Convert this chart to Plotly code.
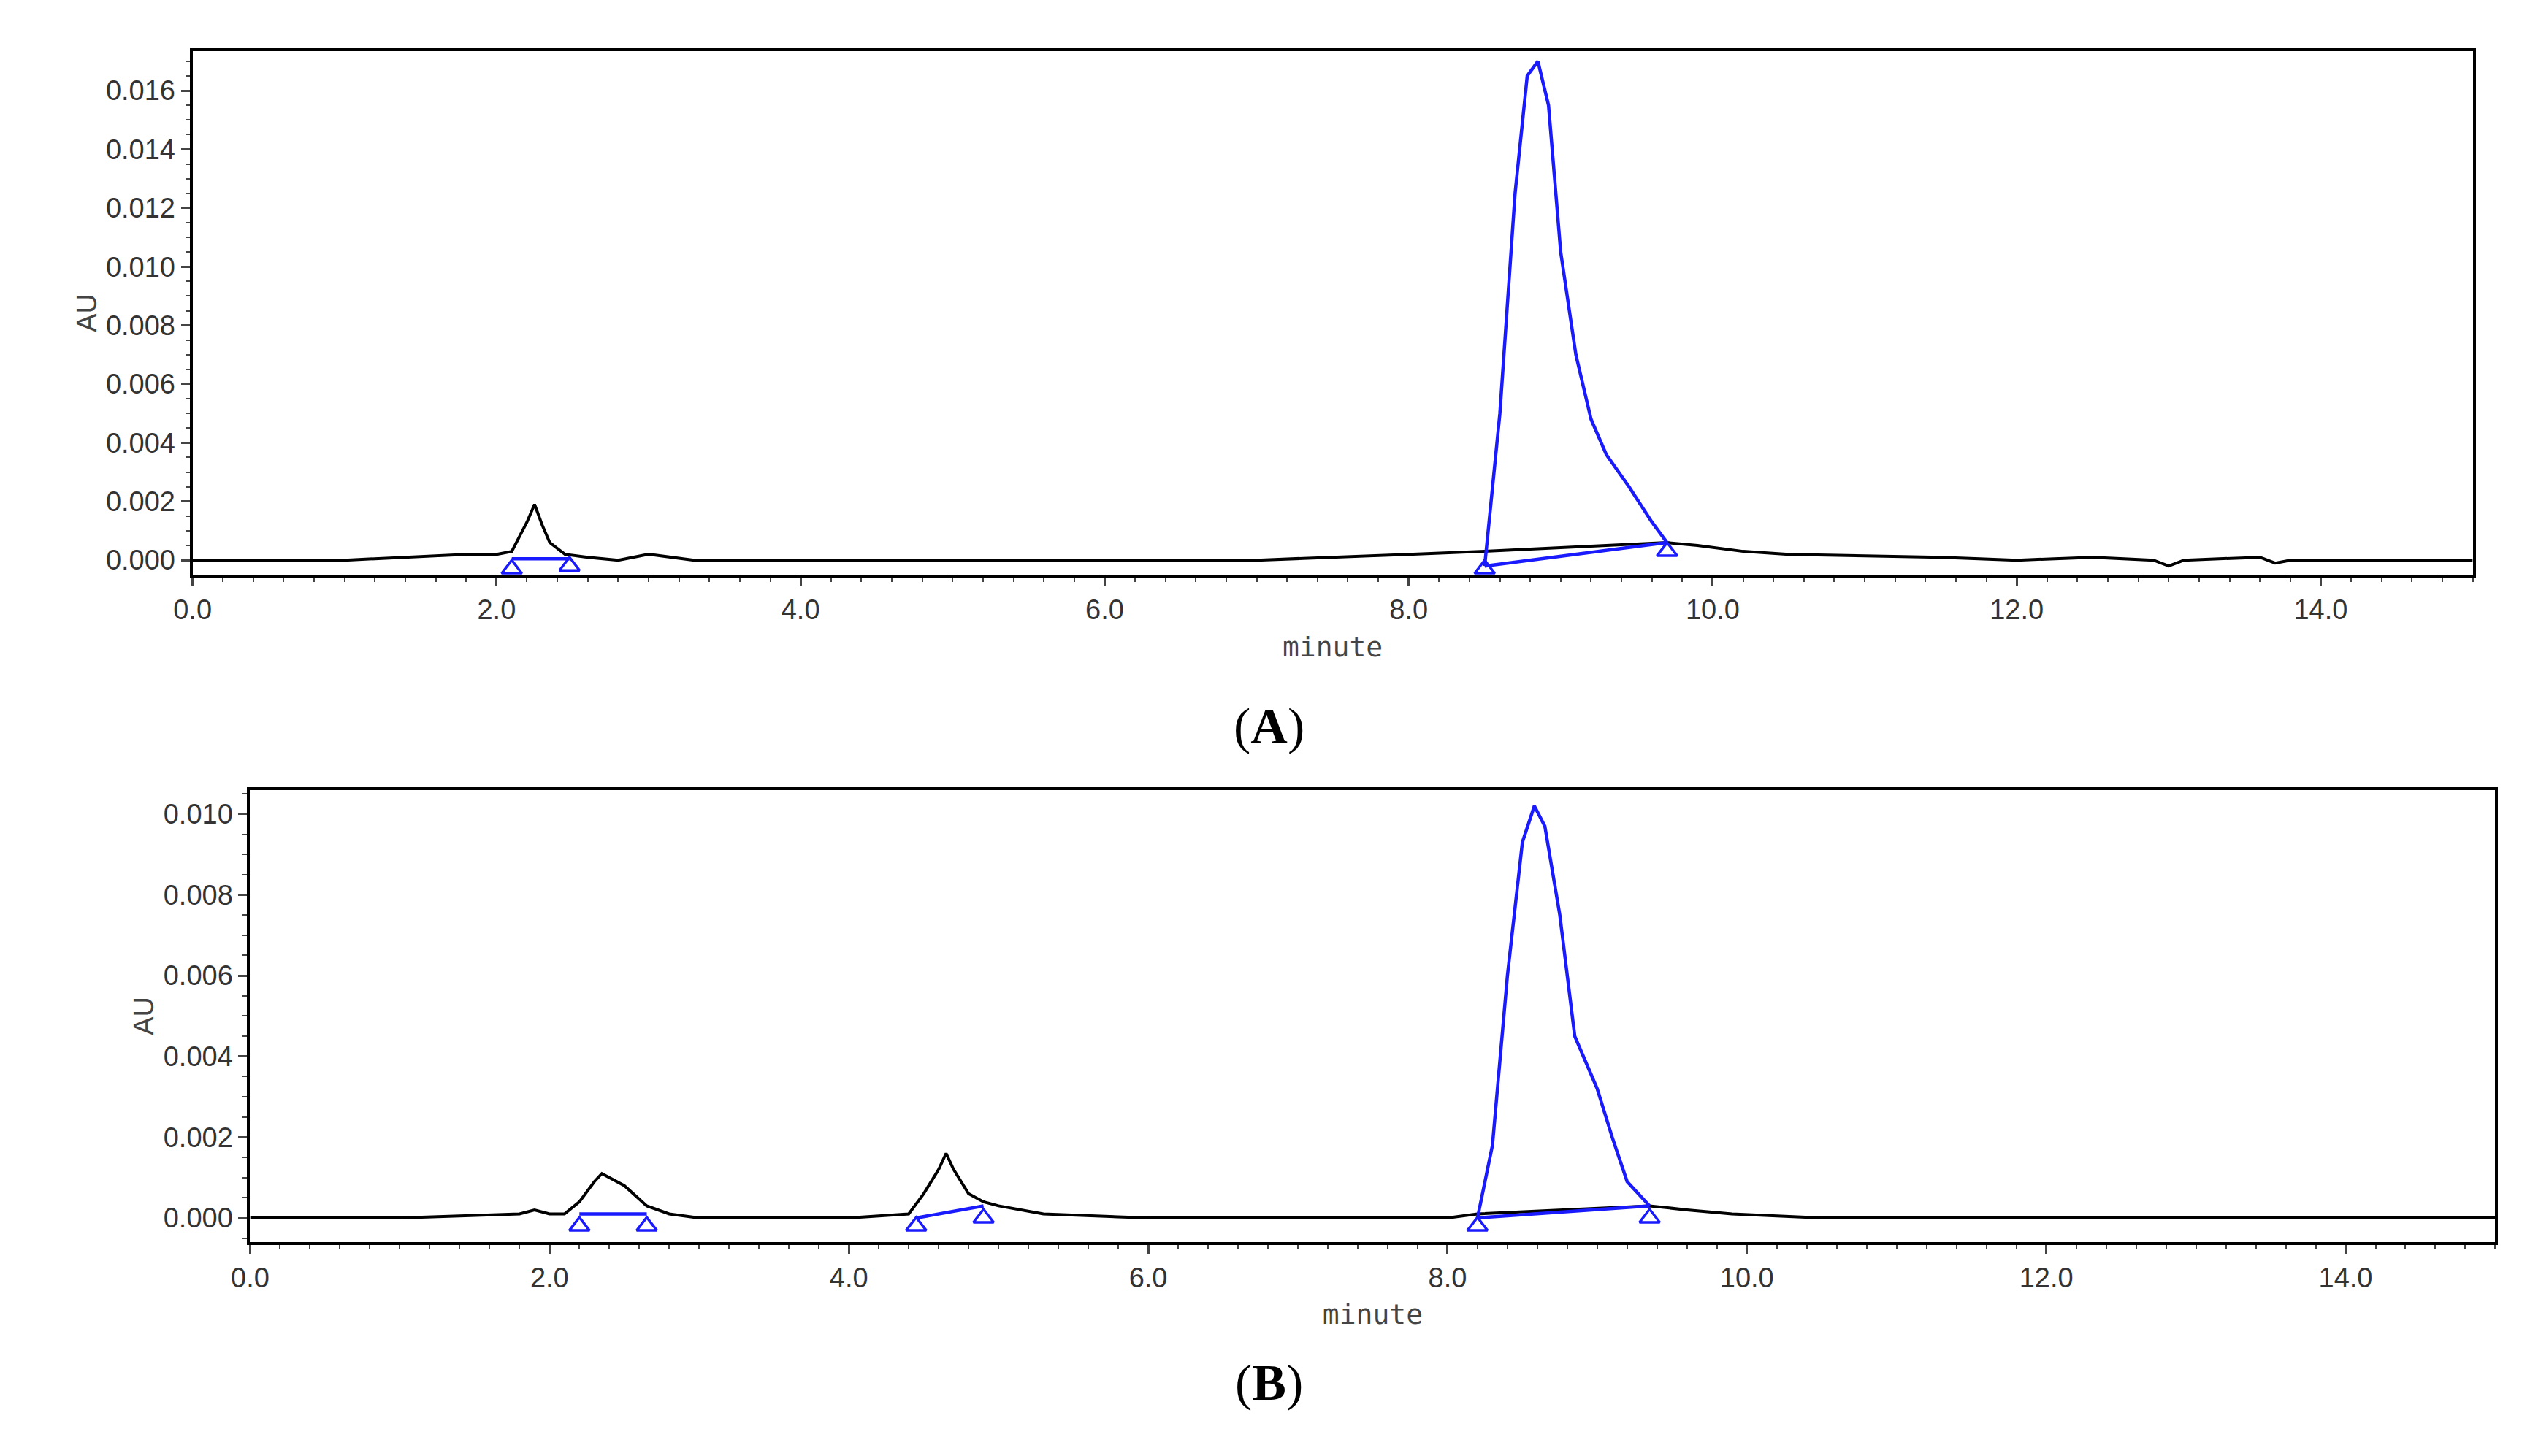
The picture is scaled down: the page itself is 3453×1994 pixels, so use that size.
import plotly.graph_objects as go

# panel A
a_black_x = [0, 1.0, 1.8, 2.0, 2.1, 2.15, 2.2, 2.25, 2.3, 2.35, 2.45, 2.6, 2.8, 3.0, 3.3, 5.0, 7.0, 8.0, 8.5, 9.7, 9.9, 10.2, 10.5, 11.5, 12.0, 12.5, 12.9, 13.0, 13.1, 13.6, 13.7, 13.8, 15.0]
a_black_y = [0, 0, 0.0002, 0.0002, 0.0003, 0.0008, 0.0013, 0.0019, 0.0012, 0.0006, 0.0002, 0.0001, 0.0, 0.0002, 0.0, 0, 0, 0.0002, 0.0003, 0.0006, 0.0005, 0.0003, 0.0002, 0.0001, 0.0, 0.0001, 0.0, -0.0002, 0.0, 0.0001, -0.0001, 0.0, 0.0]
a_peak_x = [8.5, 8.6, 8.7, 8.78, 8.85, 8.92, 9.0, 9.1, 9.2, 9.3, 9.45, 9.6, 9.7]
a_peak_y = [-0.0002, 0.005, 0.0125, 0.0165, 0.017, 0.0155, 0.0105, 0.007, 0.0048, 0.0036, 0.0025, 0.0013, 0.0006]
a_base_x = [2.1, 2.48, None, 8.5, 9.7]
a_base_y = [0.00005, 0.00005, None, -0.0002, 0.0006]
a_mark_x = [2.1, 2.48, 8.5, 9.7]
a_mark_y = [-0.0003, -0.0002, -0.0003, 0.0003]

# panel B
b_black_x = [0, 1.0, 1.8, 1.9, 2.0, 2.1, 2.2, 2.3, 2.35, 2.4, 2.5, 2.65, 2.8, 3.0, 4.0, 4.4, 4.5, 4.6, 4.65, 4.7, 4.8, 4.9, 5.0, 5.3, 6.0, 8.0, 8.2, 9.35, 9.6, 9.9, 10.5, 15.0]
b_black_y = [0, 0, 0.0001, 0.0002, 0.0001, 0.0001, 0.0004, 0.0009, 0.0011, 0.001, 0.0008, 0.0003, 0.0001, 0.0, 0.0, 0.0001, 0.0006, 0.0012, 0.0016, 0.0012, 0.0006, 0.0004, 0.0003, 0.0001, 0.0, 0.0, 0.0001, 0.0003, 0.0002, 0.0001, 0.0, 0.0]
b_peak_x = [8.2, 8.3, 8.4, 8.5, 8.58, 8.65, 8.75, 8.85, 9.0, 9.1, 9.2, 9.35]
b_peak_y = [0.0, 0.0018, 0.006, 0.0093, 0.0102, 0.0097, 0.0075, 0.0045, 0.0032, 0.002, 0.0009, 0.0003]
b_base_x = [2.2, 2.65, None, 4.45, 4.9, None, 8.2, 9.35]
b_base_y = [0.0001, 0.0001, None, 0.0, 0.0003, None, 0.0, 0.0003]
b_mark_x = [2.2, 2.65, 4.45, 4.9, 8.2, 9.35]
b_mark_y = [-0.0002, -0.0002, -0.0002, 0.0, -0.0002, 0.0]

BLUE = "#1a1aff"
fig = go.Figure()
for i, (bx, by, px_, py_, lx, ly, mx, my) in enumerate([
        (a_black_x, a_black_y, a_peak_x, a_peak_y, a_base_x, a_base_y, a_mark_x, a_mark_y),
        (b_black_x, b_black_y, b_peak_x, b_peak_y, b_base_x, b_base_y, b_mark_x, b_mark_y)]):
    xa = "x" if i == 0 else "x2"
    ya = "y" if i == 0 else "y2"
    fig.add_trace(go.Scatter(x=bx, y=by, mode="lines", line=dict(color="black", width=4), xaxis=xa, yaxis=ya))
    fig.add_trace(go.Scatter(x=px_, y=py_, mode="lines", line=dict(color=BLUE, width=4.5), xaxis=xa, yaxis=ya))
    fig.add_trace(go.Scatter(x=lx, y=ly, mode="lines", line=dict(color=BLUE, width=4.5), xaxis=xa, yaxis=ya))
    fig.add_trace(go.Scatter(x=mx, y=my, mode="markers", marker=dict(symbol="triangle-up-open", size=24, color=BLUE, line=dict(width=3.5)), xaxis=xa, yaxis=ya))

tick_font = dict(family="Liberation Sans", size=38, color="#333")
common_x = dict(range=[0, 15], dtick=2, tickformat=".1f", ticks="outside", ticklen=12, tickwidth=2.5,
                minor=dict(ticks="outside", dtick=0.2, ticklen=6, tickwidth=2),
                showline=True, linecolor="black", linewidth=4, mirror=True, showgrid=False, zeroline=False,
                tickfont=tick_font,
                title=dict(text="minute", font=dict(family="DejaVu Sans Mono", size=38, color="#444"), standoff=18))
common_y = dict(tickformat=".3f", ticks="outside", ticklen=12, tickwidth=2.5,
                showline=True, linecolor="black", linewidth=4, mirror=True, showgrid=False, zeroline=False,
                tickfont=tick_font,
                title=dict(text="AU", font=dict(family="Liberation Sans", size=38, color="#444"), standoff=2))

fig.update_layout(
    width=3453, height=1994, paper_bgcolor="white", plot_bgcolor="white", showlegend=False,
    margin=dict(l=0, r=0, t=0, b=0),
    xaxis=dict(common_x, domain=[0.067, 0.978], anchor="y"),
    yaxis=dict(common_y, domain=[0.609, 0.969], range=[-0.00049, 0.01735], dtick=0.002, anchor="x",
               minor=dict(ticks="outside", dtick=0.0005, ticklen=6, tickwidth=2)),
    xaxis2=dict(common_x, domain=[0.090, 0.987], anchor="y2"),
    yaxis2=dict(common_y, domain=[0.150, 0.461], range=[-0.0006, 0.0106], dtick=0.002, anchor="x2",
                minor=dict(ticks="outside", dtick=0.0005, ticklen=6, tickwidth=2)),
    annotations=[
        dict(text="(<b>A</b>)", x=0.497, y=0.505, xref="paper", yref="paper", showarrow=False,
             font=dict(family="Liberation Serif", size=70, color="black")),
        dict(text="(<b>B</b>)", x=0.497, y=0.033, xref="paper", yref="paper", showarrow=False,
             font=dict(family="Liberation Serif", size=70, color="black")),
    ],
)

fig.write_html("out.html")
